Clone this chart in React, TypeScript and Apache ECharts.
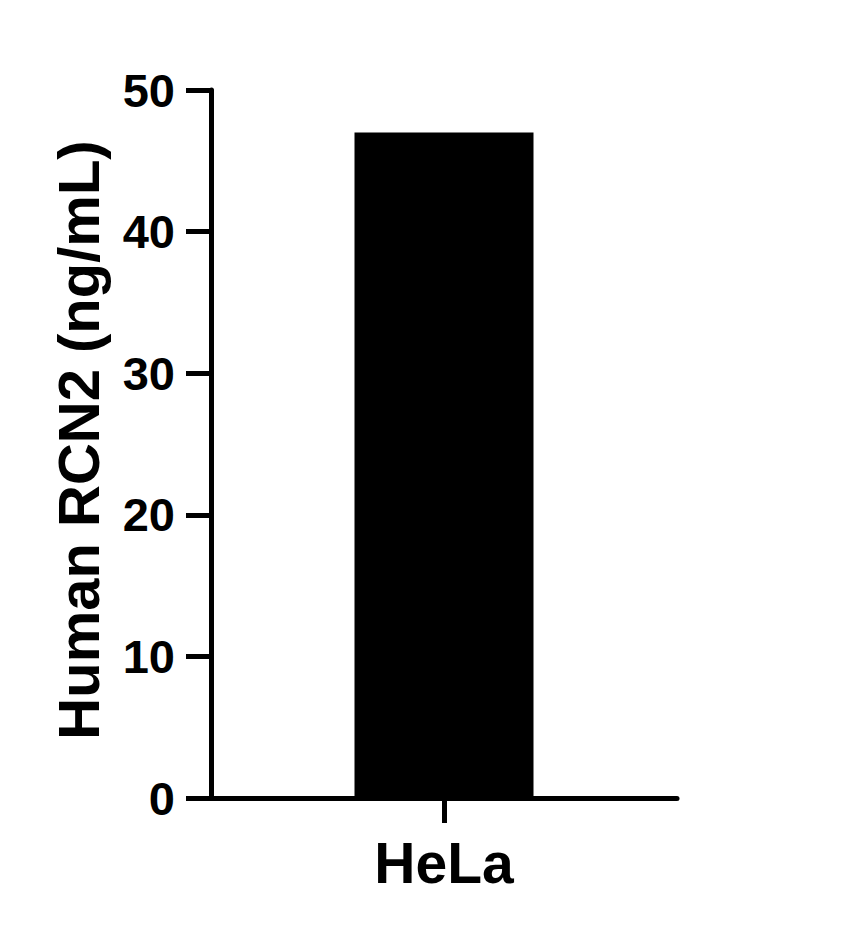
import React, { useEffect, useRef } from "react";
import * as echarts from "echarts";

const categories = ["HeLa"];
const values = [47];
const yTicks = { min: 0, max: 50, interval: 10 };
const yAxisTitle = "Human RCN2 (ng/mL)";

const FONT = "'Liberation Sans', Arial, Helvetica, sans-serif";

export default function App() {
  const ref = useRef<HTMLDivElement>(null);
  useEffect(() => {
    if (!ref.current) return;
    const chart = echarts.init(ref.current, undefined, { renderer: "svg" });
    chart.setOption({
      animation: false,
      backgroundColor: "#ffffff",
      grid: { left: 211, right: 179, top: 90, bottom: 136, containLabel: false },
      xAxis: {
        type: "category",
        data: categories,
        axisLine: { show: true, lineStyle: { color: "#000", width: 5 } },
        axisTick: { show: true, alignWithLabel: true, length: 25, lineStyle: { color: "#000", width: 5 } },
        axisLabel: { color: "#000", fontSize: 57, fontWeight: "bold", fontFamily: FONT, margin: 36 },
        splitLine: { show: false },
      },
      yAxis: {
        type: "value",
        min: yTicks.min,
        max: yTicks.max,
        interval: yTicks.interval,
        axisLine: { show: true, lineStyle: { color: "#000", width: 5 } },
        axisTick: { show: true, length: 25, lineStyle: { color: "#000", width: 5 } },
        axisLabel: { color: "#000", fontSize: 47, fontWeight: "bold", fontFamily: FONT, margin: 36 },
        splitLine: { show: false },
      },
      graphic: [
        {
          type: "text",
          x: 78,
          y: 440,
          rotation: Math.PI / 2,
          style: {
            text: yAxisTitle,
            fill: "#000",
            font: `bold 58px ${FONT}`,
            textAlign: "center",
            textVerticalAlign: "middle",
          },
        },
      ],
      series: [
        {
          type: "bar",
          data: values,
          barWidth: 179,
          barCategoryGap: 0,
          itemStyle: { color: "#000" },
        },
      ],
    });
    return () => chart.dispose();
  }, []);
  return (
    <div
      ref={ref}
      style={{ position: "absolute", left: 0, top: 0, width: 856, height: 934 }}
    />
  );
}
